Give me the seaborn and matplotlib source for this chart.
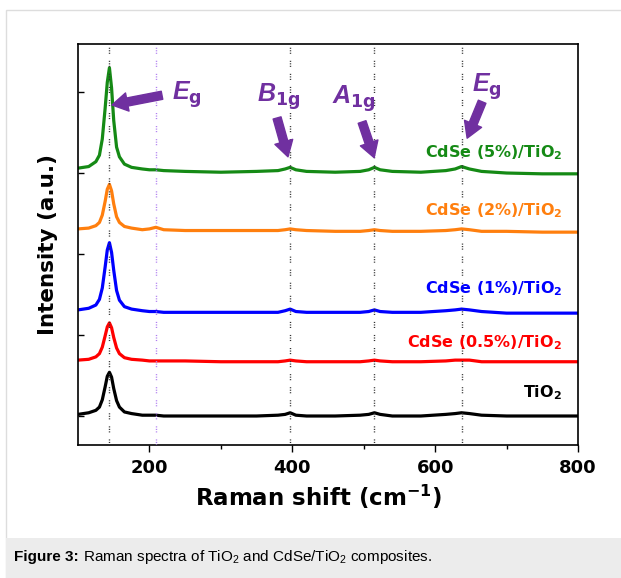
import matplotlib
matplotlib.use("Agg")
import matplotlib.pyplot as plt
import seaborn as sns
import pandas as pd
from matplotlib.patches import Rectangle

# Raman shift points (cm-1)
shift = [100, 115, 125, 130, 134, 138, 141, 144, 147, 150, 154, 158, 165, 175, 190,
         200, 209, 220, 250, 300, 350, 380, 390, 397, 405, 420, 460, 495, 507, 515,
         523, 540, 580, 615, 628, 637, 648, 665, 700, 750, 800]

# stacked intensities (offset units, one unit = one y tick)
cdse5 = [3.06, 3.08, 3.14, 3.22, 3.42, 3.80, 4.12, 4.30, 4.05, 3.65, 3.32, 3.20, 3.11, 3.07, 3.05,
         3.04, 3.04, 3.03, 3.02, 3.01, 3.02, 3.03, 3.05, 3.07, 3.04, 3.02, 3.01, 3.02, 3.04, 3.07,
         3.04, 3.02, 3.01, 3.03, 3.05, 3.08, 3.05, 3.02, 3.00, 2.99, 2.99]
cdse2 = [2.31, 2.32, 2.35, 2.39, 2.48, 2.65, 2.80, 2.86, 2.78, 2.62, 2.46, 2.39, 2.34, 2.32, 2.30,
         2.31, 2.33, 2.30, 2.29, 2.29, 2.29, 2.29, 2.30, 2.31, 2.30, 2.29, 2.28, 2.28, 2.29, 2.30,
         2.29, 2.28, 2.28, 2.29, 2.30, 2.31, 2.30, 2.28, 2.28, 2.27, 2.27]
cdse1 = [1.31, 1.33, 1.37, 1.44, 1.58, 1.84, 2.05, 2.14, 2.02, 1.80, 1.55, 1.43, 1.35, 1.32, 1.30,
         1.29, 1.29, 1.28, 1.28, 1.28, 1.28, 1.28, 1.30, 1.32, 1.29, 1.28, 1.28, 1.28, 1.29, 1.31,
         1.29, 1.28, 1.28, 1.30, 1.31, 1.32, 1.31, 1.29, 1.27, 1.27, 1.27]
cdse05 = [0.69, 0.70, 0.73, 0.77, 0.85, 0.99, 1.10, 1.15, 1.09, 0.97, 0.84, 0.77, 0.72, 0.70, 0.69,
          0.68, 0.68, 0.68, 0.68, 0.67, 0.67, 0.67, 0.68, 0.69, 0.68, 0.67, 0.67, 0.67, 0.68, 0.69,
          0.68, 0.67, 0.67, 0.68, 0.69, 0.69, 0.69, 0.67, 0.67, 0.67, 0.67]
tio2 = [0.02, 0.04, 0.07, 0.11, 0.20, 0.36, 0.49, 0.54, 0.48, 0.34, 0.19, 0.11, 0.05, 0.03, 0.01,
        0.01, 0.01, 0.00, 0.00, 0.00, 0.00, 0.01, 0.02, 0.04, 0.01, 0.00, 0.00, 0.01, 0.02, 0.04,
        0.02, 0.00, 0.00, 0.02, 0.03, 0.04, 0.03, 0.01, 0.00, 0.00, 0.00]

samples = ["TiO2", "CdSe (0.5%)/TiO2", "CdSe (1%)/TiO2", "CdSe (2%)/TiO2", "CdSe (5%)/TiO2"]
labels = ["TiO$_\\mathbf{2}$", "CdSe (0.5%)/TiO$_\\mathbf{2}$", "CdSe (1%)/TiO$_\\mathbf{2}$",
          "CdSe (2%)/TiO$_\\mathbf{2}$", "CdSe (5%)/TiO$_\\mathbf{2}$"]
label_y = [0.23, 0.85, 1.52, 2.48, 3.20]
colors = ["black", "#ff0000", "#0000ff", "#ff7f0e", "#158a15"]

modes = [144, 209, 397, 515, 637]
mode_labels = ["$\\mathbfit{E}_\\mathbf{g}$", "$\\mathbfit{B}_\\mathbf{1g}$",
               "$\\mathbfit{A}_\\mathbf{1g}$", "$\\mathbfit{E}_\\mathbf{g}$"]

df = pd.DataFrame({
    "shift": shift * 5,
    "intensity": tio2 + cdse05 + cdse1 + cdse2 + cdse5,
    "sample": [s for s in samples for _ in shift],
})

sns.set_style("white")
plt.rcParams["font.family"] = ["DejaVu Sans"]
plt.rcParams["text.color"] = "black"
plt.rcParams["axes.labelcolor"] = "black"
plt.rcParams["xtick.color"] = "black"
plt.rcParams["ytick.color"] = "black"
plt.rcParams["mathtext.fontset"] = "custom"
plt.rcParams["mathtext.rm"] = "Liberation Sans"
plt.rcParams["mathtext.bf"] = "DejaVu Sans:bold"
plt.rcParams["mathtext.it"] = "Liberation Sans:italic"
plt.rcParams["mathtext.bfit"] = "Liberation Sans:italic:bold"

fig = plt.figure(figsize=(6.21, 5.78), dpi=100)
ax = fig.add_axes([78 / 621, 1 - 445 / 578, 500 / 621, 401 / 578])

sns.lineplot(data=df, x="shift", y="intensity", hue="sample", hue_order=samples,
             palette=colors, lw=2.3, legend=False, estimator=None, ax=ax)

purple = "#7030a0"
for m in modes:
    ax.axvline(m, color="#b07ef0" if m == 209 else "#333333", lw=1,
               ls=(0, (0.8, 1.0, 0.8, 1.0, 0.8, 5)), zorder=3)

for lab, yy, c in zip(labels, label_y, colors):
    ax.text(778, yy, lab, color=c, fontsize=11.5, fontweight="bold", ha="right", va="baseline")

# mode labels and arrows
ax.text(231.7, 3.90, mode_labels[0], color=purple, fontsize=18, ha="left", va="baseline")
ax.text(350.7, 3.88, mode_labels[1], color=purple, fontsize=18, ha="left", va="baseline")
ax.text(455.7, 3.86, mode_labels[2], color=purple, fontsize=18, ha="left", va="baseline")
ax.text(651.8, 4.00, mode_labels[3], color=purple, fontsize=18, ha="left", va="baseline")

arrow = dict(arrowstyle="simple,head_length=0.8,head_width=0.95,tail_width=0.42",
             color=purple, shrinkA=0, shrinkB=0, mutation_scale=14)
ax.annotate("", xy=(147.6, 3.84), xytext=(217.6, 3.96), arrowprops=arrow)
ax.annotate("", xy=(394, 3.20), xytext=(378.7, 3.68), arrowprops=arrow)
ax.annotate("", xy=(514.6, 3.19), xytext=(497.7, 3.63), arrowprops=arrow)
ax.annotate("", xy=(644.8, 3.43), xytext=(665.8, 3.88), arrowprops=arrow)

ax.set_xlim(100, 800)
ax.set_ylim(-0.358, 4.593)
ax.set_xticks([200, 400, 600, 800])
ax.set_xticks([300, 500, 700], minor=True)
ax.set_yticks([0, 1, 2, 3, 4])
ax.set_yticklabels([])
ax.tick_params(axis="x", which="major", direction="out", length=5, width=1,
               labelsize=13, pad=5, bottom=True)
ax.tick_params(axis="x", which="minor", direction="out", length=3, width=1, bottom=True)
ax.tick_params(axis="y", direction="in", length=4, width=1, left=True)
for lab in ax.get_xticklabels():
    lab.set_fontweight("bold")
for s in ax.spines.values():
    s.set_color("black")
    s.set_linewidth(1.2)

ax.set_xlabel("Raman shift (cm$^\\mathbf{-1}$)", fontsize=16.5, fontweight="bold")
ax.xaxis.set_label_coords(0.48, -0.095)
ax.set_ylabel("Intensity (a.u.)", fontsize=15.5, fontweight="bold", labelpad=11)

# page frame and caption band
fig.patches.append(Rectangle((6 / 621, 0), 1.0, (578 - 10) / 578, transform=fig.transFigure,
                             fill=False, ec="#dddddd", lw=1, zorder=0))
fig.patches.append(Rectangle((6 / 621, 0), 1.0, 40 / 578, transform=fig.transFigure,
                             fc="#ececec", ec="none", zorder=0))
cap1 = fig.text(14 / 621, 21 / 578, "Figure 3:", fontsize=11, fontweight="bold",
                family="Liberation Sans", ha="left", va="center")
fig.canvas.draw()
bb = cap1.get_window_extent()
fig.text((bb.x1 + 4) / 621, 21 / 578, "Raman spectra of TiO$_2$ and CdSe/TiO$_2$ composites.",
         fontsize=11, family="Liberation Sans", ha="left", va="center")

fig.savefig("out.png", dpi=100)
